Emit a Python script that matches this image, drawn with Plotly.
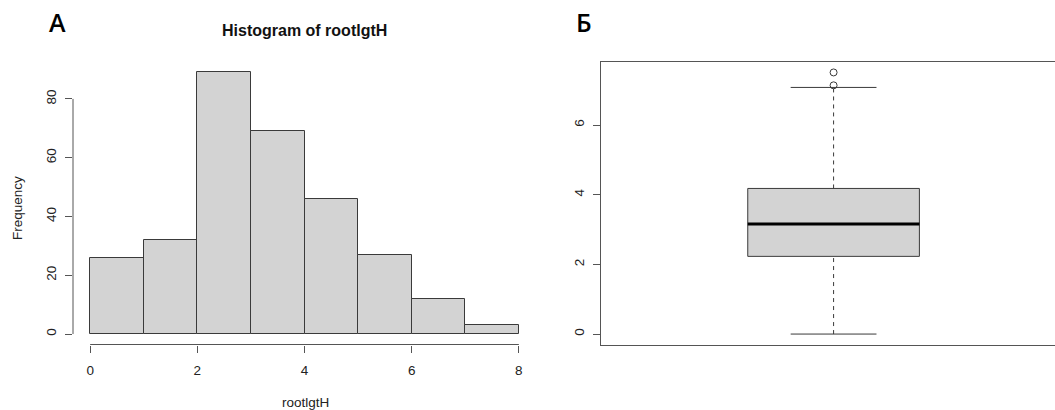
import plotly.graph_objects as go

# ---------------- data ----------------
bin_edges = [0, 1, 2, 3, 4, 5, 6, 7, 8]
counts = [26, 32, 89, 69, 46, 27, 12, 3]
x_ticks = [0, 2, 4, 6, 8]
y_ticks_hist = [0, 20, 40, 60, 80]

box_q1 = 2.23
box_median = 3.16
box_q3 = 4.18
whisker_low = 0.0
whisker_high = 7.08
outliers = [7.14, 7.51]
y_ticks_box = [0, 2, 4, 6]

# ---------------- helpers ----------------
W, H = 1055, 410
def px(x):
    return x / W
def py(y):
    return 1 - y / H

FONT = "Liberation Sans, Arial, sans-serif"
AXC = "#555555"
EDGE = "#3a3a3a"
FILL = "#d3d3d3"

mids = [(a + b) / 2 for a, b in zip(bin_edges[:-1], bin_edges[1:])]
widths = [b - a for a, b in zip(bin_edges[:-1], bin_edges[1:])]

fig = go.Figure()

fig.add_trace(go.Bar(
    x=mids, y=counts, width=widths,
    marker=dict(color=FILL, line=dict(color=EDGE, width=1)),
    xaxis="x", yaxis="y", showlegend=False, hoverinfo="x+y",
))

# box plot drawn from stats
c = 1.0
bw = 0.1845
fig.add_trace(go.Scatter(
    x=[c - bw, c + bw, c + bw, c - bw, c - bw],
    y=[box_q1, box_q1, box_q3, box_q3, box_q1],
    fill="toself", fillcolor=FILL, mode="lines",
    line=dict(color=EDGE, width=1), xaxis="x2", yaxis="y2", showlegend=False,
))
fig.add_trace(go.Scatter(
    x=[c - bw, c + bw], y=[box_median, box_median], mode="lines",
    line=dict(color="black", width=3), xaxis="x2", yaxis="y2", showlegend=False,
))
for y0, y1 in [(box_q3, whisker_high), (whisker_low, box_q1)]:
    fig.add_trace(go.Scatter(
        x=[c, c], y=[y0, y1], mode="lines",
        line=dict(color=EDGE, width=1, dash="4px,4px"),
        xaxis="x2", yaxis="y2", showlegend=False,
    ))
for yv in [whisker_high, whisker_low]:
    fig.add_trace(go.Scatter(
        x=[c - bw / 2, c + bw / 2], y=[yv, yv], mode="lines",
        line=dict(color=EDGE, width=1), xaxis="x2", yaxis="y2", showlegend=False,
    ))
fig.add_trace(go.Scatter(
    x=[c] * len(outliers), y=outliers, mode="markers",
    marker=dict(symbol="circle-open", size=7, color=EDGE, line=dict(width=1)),
    xaxis="x2", yaxis="y2", showlegend=False,
))

ydom = [py(344.5), py(62)]
tickfont = dict(family=FONT, size=13.5, color="#222")
labfont = dict(family="Open Sans", size=25, color="black", weight=600)

fig.update_layout(
    width=W, height=H,
    margin=dict(l=0, r=0, t=0, b=0),
    paper_bgcolor="white", plot_bgcolor="white",
    bargap=0,
    xaxis=dict(domain=[px(73), px(536)], range=[-0.32, 8.32],
               tickvals=x_ticks, ticks="outside", ticklen=7, tickcolor=AXC,
               showline=False, showgrid=False, zeroline=False,
               tickfont=tickfont, ticklabelstandoff=6),
    yaxis=dict(domain=ydom, range=[-3.56, 92.56],
               tickvals=y_ticks_hist, ticks="outside", ticklen=7, tickcolor=AXC,
               tickangle=-90, showline=False, showgrid=False, zeroline=False,
               tickfont=tickfont, ticklabelstandoff=4),
    xaxis2=dict(domain=[px(601), 1], range=[0.5, 1.476], anchor="y2",
                showticklabels=False, ticks="", showline=True, mirror=True,
                linecolor=AXC, linewidth=1, showgrid=False, zeroline=False),
    yaxis2=dict(domain=ydom, range=[-0.30, 7.81], anchor="x2",
                tickvals=y_ticks_box, ticks="outside", ticklen=7, tickcolor=AXC,
                tickangle=-90, showline=True, linecolor=AXC, linewidth=1,
                showgrid=False, zeroline=False, tickfont=tickfont,
                ticklabelstandoff=4),
    shapes=[
        dict(type="line", xref="x", yref="y domain", x0=x_ticks[0], x1=x_ticks[-1],
             y0=0, y1=0, line=dict(color=AXC, width=1)),
        dict(type="line", xref="x domain", yref="y", x0=0, x1=0,
             y0=y_ticks_hist[0], y1=y_ticks_hist[-1], line=dict(color=AXC, width=1)),
    ],
    annotations=[
        dict(text="A", x=px(57), y=py(22), xref="paper", yref="paper",
             showarrow=False, font=labfont,
             xanchor="center", yanchor="middle"),
        dict(text="Б", x=px(584), y=py(22), xref="paper", yref="paper",
             showarrow=False, font=labfont,
             xanchor="center", yanchor="middle"),
        dict(text="<b>Histogram of rootlgtH</b>", x=px(304.5), y=py(31),
             xref="paper", yref="paper", showarrow=False,
             font=dict(family=FONT, size=16, color="#111"),
             xanchor="center", yanchor="middle"),
        dict(text="Frequency", x=px(17), y=py(208), xref="paper", yref="paper",
             showarrow=False, textangle=-90,
             font=dict(family=FONT, size=13.5, color="#222"),
             xanchor="center", yanchor="middle"),
        dict(text="rootlgtH", x=px(305.5), y=py(402), xref="paper", yref="paper",
             showarrow=False, font=dict(family=FONT, size=13.5, color="#222"),
             xanchor="center", yanchor="middle"),
    ],
)

fig.write_html("out.html")
